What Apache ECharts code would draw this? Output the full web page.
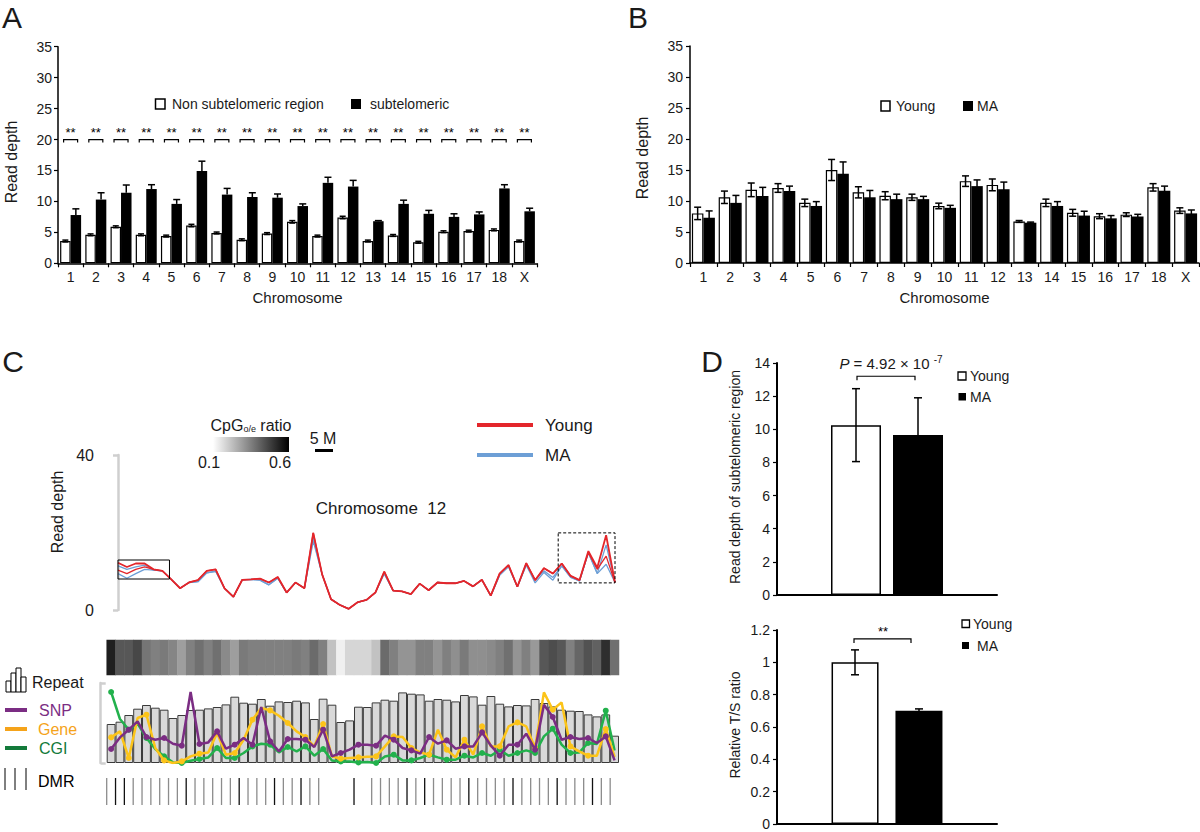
<!DOCTYPE html>
<html><head><meta charset="utf-8">
<script src="https://cdn.jsdelivr.net/npm/echarts@6/dist/echarts.min.js"></script>
<style>html,body{margin:0;padding:0;background:#fff}#c{width:1200px;height:832px}</style>
</head><body><div id="c"></div>
<script>
// ---------- DATA ----------
const chromosomes = ['1','2','3','4','5','6','7','8','9','10','11','12','13','14','15','16','17','18','X'];
// Panel A
const nonSubtelomeric    = [3.6,4.6,5.9,4.6,4.4,6.1,4.9,3.8,4.8,6.7,4.4,7.4,3.6,4.5,3.4,5.1,5.2,5.4,3.6];
const nonSubtelomericErr = [0.15,0.15,0.15,0.15,0.15,0.2,0.15,0.15,0.15,0.2,0.15,0.2,0.15,0.15,0.15,0.15,0.15,0.15,0.15];
const subtelomeric       = [7.8,10.3,11.4,12.0,9.6,14.9,11.1,10.7,10.6,9.25,13.0,12.4,6.8,9.6,8.0,7.5,7.9,12.1,8.4];
const subtelomericErr    = [1.0,1.1,1.25,0.7,0.7,1.6,1.0,0.7,0.6,0.35,0.9,1.0,0.1,0.6,0.55,0.5,0.4,0.6,0.5];
const significance       = ['**','**','**','**','**','**','**','**','**','**','**','**','**','**','**','**','**','**','**'];
// Panel B
const youngDepth = [8.0,10.6,11.8,12.1,9.7,15.0,11.4,10.85,10.6,9.2,13.2,12.6,6.7,9.7,8.1,7.55,7.8,12.2,8.45];
const youngErr   = [1.0,1.0,1.1,0.7,0.6,1.7,0.9,0.65,0.5,0.45,0.85,0.95,0.15,0.6,0.55,0.4,0.3,0.6,0.45];
const maDepth    = [7.3,9.7,10.8,11.6,9.2,14.4,10.6,10.3,10.3,8.9,12.4,11.9,6.5,9.2,7.65,7.2,7.5,11.65,8.0];
const maErr      = [1.1,1.2,1.4,0.8,0.7,1.9,1.1,0.8,0.45,0.4,1.0,1.15,0.1,0.7,0.7,0.45,0.35,0.75,0.55];
// Panel C: chromosome 12 read depth (57 windows)
const chr12Young1 = [12.2,11.1,12.0,12.0,10.5,10.1,7.9,5.6,7.1,7.7,10.1,10.5,5.6,3.4,7.8,7.9,8.1,7.1,8.5,4.5,7.1,5.6,19.9,9.2,2.8,1.3,0.3,2.0,2.6,4.5,9.9,5.0,4.8,4.1,6.8,5.1,7.1,6.9,6.9,7.5,6.1,7.8,3.7,9.4,11.6,6.0,12.1,7.7,10.8,9.4,12.0,8.8,7.7,15.2,10.9,19.3,7.1];
const chr12Young2 = [10.3,9.4,10.5,11.1,10.5,10.1,7.9,5.6,7.1,7.7,10.1,10.5,5.6,3.4,7.8,7.9,8.1,7.1,8.5,4.5,7.1,5.6,19.9,9.2,2.8,1.3,0.3,2.0,2.6,4.5,9.9,5.0,4.8,4.1,6.8,5.1,7.1,6.9,6.9,7.5,6.1,7.8,3.7,9.4,11.6,6.0,12.1,7.7,10.8,9.4,12.0,8.8,7.7,14.8,10.5,13.9,7.1];
const chr12MA1    = [11.4,10.5,11.1,11.6,10.3,10.1,7.9,5.6,7.1,7.3,9.6,10.0,5.6,3.4,7.8,7.9,7.7,6.5,8.2,4.5,7.1,5.6,18.6,9.2,2.8,1.3,0.3,2.0,2.6,4.5,9.4,5.0,4.8,4.1,6.8,5.1,7.1,6.9,6.9,7.5,6.1,7.8,3.7,9.0,11.2,6.0,11.6,7.7,10.1,8.4,11.4,8.5,7.5,14.8,9.4,16.8,7.1];
const chr12MA2    = [9.4,8.2,9.4,10.5,10.3,10.1,7.9,5.6,7.1,7.3,9.6,10.0,5.6,3.4,7.8,7.9,7.7,6.5,8.2,4.5,7.1,5.6,17.8,9.2,2.8,1.3,0.3,2.0,2.6,4.5,9.4,5.0,4.8,4.1,6.8,5.1,7.1,6.9,6.9,7.5,6.1,7.8,3.7,9.0,11.2,6.0,11.6,7.0,9.7,7.7,11.4,8.4,7.5,14.8,9.4,11.8,7.1];
// Panel C: 58 genomic bins
const cpgRatio = [0.54,0.43,0.43,0.46,0.37,0.35,0.36,0.34,0.29,0.35,0.38,0.35,0.38,0.33,0.29,0.36,0.35,0.35,0.35,0.35,0.35,0.36,0.35,0.39,0.35,0.22,0.13,0.18,0.18,0.18,0.22,0.39,0.35,0.31,0.31,0.35,0.35,0.31,0.35,0.32,0.36,0.32,0.32,0.33,0.35,0.38,0.31,0.35,0.30,0.43,0.45,0.43,0.35,0.40,0.44,0.41,0.51,0.38];
const repeatDensity = [39.0,41.3,48.0,54.3,58.0,55.3,53.3,45.0,48.0,53.0,53.3,54.6,56.0,58.6,66.3,60.3,59.3,64.0,57.3,61.6,61.0,62.3,60.6,44.0,64.3,58.3,41.0,42.6,56.3,56.0,60.6,63.3,62.3,70.6,69.3,68.6,62.3,64.0,63.3,61.6,68.0,66.6,58.3,67.0,59.3,56.6,58.0,57.6,64.0,60.0,56.6,53.3,52.3,52.0,48.6,46.6,48.6,27.3];
const snpDensity  = [14.0,25.6,33.3,41.6,26.0,23.3,25.0,19.3,17.3,71.0,19.0,20.6,31.6,14.3,18.3,25.0,18.3,56.0,21.6,11.6,24.0,24.0,23.3,16.0,33.3,6.6,10.0,13.3,18.3,18.3,17.3,27.3,23.3,15.0,12.6,9.3,26.0,19.3,22.6,14.3,16.6,16.6,30.6,17.3,7.3,18.3,18.3,29.3,13.3,58.3,46.0,23.3,26.0,24.0,25.0,20.0,26.6,2.6];
const geneDensity = [25.6,31.6,5.0,45.0,48.3,15.0,2.6,0,1.6,6.6,9.3,10.6,30.0,8.3,10.0,23.3,43.3,55.0,52.6,47.3,40.0,31.6,26.0,16.6,39.0,6.6,4.3,5.0,5.6,6.3,6.6,16.6,26.6,26.0,15.0,10.6,8.3,33.3,13.3,5.6,23.3,8.3,36.6,16.6,16.6,36.6,40.6,36.6,15.0,70.6,53.3,60.6,16.6,11.6,7.3,7.3,34.0,6.0];
const cgiDensity  = [71.0,44.0,33.3,39.3,25.0,14.0,6.6,0.6,0,2.3,4.0,5.6,15.0,5.0,5.0,10.0,16.6,19.3,18.3,10.6,16.0,11.6,16.6,7.3,14.0,2.6,1.6,1.6,0.6,1.0,0,6.6,8.3,2.6,2.6,5.0,8.3,5.6,3.3,3.3,7.3,5.6,10.0,7.3,13.3,7.3,10.0,12.6,10.0,26.6,34.3,18.3,10.0,10.6,20.0,19.0,52.3,12.6];
// DMR marks per bin: 0 none, 1 grey, 2 dark
const dmrMarks = [1,2,2,1,1,1,1,1,1,2,1,1,1,1,1,2,1,1,1,2,1,1,2,1,1,0,0,0,2,0,1,1,1,1,2,1,2,1,1,1,1,2,1,1,1,1,2,1,1,1,1,2,1,1,1,2,1,1];
// Panel D
const groups = ['Young','MA'];
const subtelDepth    = [10.25, 9.65];
const subtelDepthErr = [2.2, 2.25];
const tsRatio        = [1.0, 0.70];
const tsRatioErr     = [0.077, 0.012];

// ---------- CHART ----------
const FONT = 'Liberation Sans, Arial, Helvetica, sans-serif';
const TXT = '#1a1a1a';
const bins = cpgRatio.map((_, i) => String(i + 1));
const chart = echarts.init(document.getElementById('c'), null, {renderer: 'svg'});

function grid(left, top, width, height) {
  return {left, top, width, height, containLabel: false, outerBoundsMode: 'none'};
}
function catAxis(gi, data, show) {
  return {type: 'category', gridIndex: gi, data, show: show !== false,
    axisLine: {show: true, lineStyle: {color: '#000', width: 1.5}},
    axisTick: {show: true, length: 4, lineStyle: {color: '#000', width: 1.2}},
    axisLabel: {show: true, interval: 0, margin: 7, fontSize: 14, fontFamily: FONT, color: TXT},
    splitLine: {show: false}};
}
function valAxis(gi, min, max, interval, extra) {
  return Object.assign({type: 'value', gridIndex: gi, min, max, interval,
    axisLine: {show: true, lineStyle: {color: '#000', width: 1.5}},
    axisTick: {show: true, length: 4, lineStyle: {color: '#000', width: 1.2}},
    axisLabel: {show: true, margin: 6, fontSize: 14, fontFamily: FONT, color: TXT},
    splitLine: {show: false}}, extra || {});
}
function errSeries(axis, vals, errs, offset, capHalf, twoSided, color) {
  return {type: 'custom', xAxisIndex: axis, yAxisIndex: axis, silent: true, z: 6,
    data: vals.map((v, i) => [i, v, errs[i]]), encode: {x: 0, y: 1},
    renderItem(params, api) {
      const i = api.value(0), v = api.value(1), e = api.value(2);
      const base = api.coord([i, v]);
      const x = base[0] + offset;
      const yTop = api.coord([i, v + e])[1];
      const yBot = twoSided ? api.coord([i, v - e])[1] : base[1];
      const st = {stroke: color, lineWidth: 1.5};
      const ch = [
        {type: 'line', shape: {x1: x, y1: yBot, x2: x, y2: yTop}, style: st},
        {type: 'line', shape: {x1: x - capHalf, y1: yTop, x2: x + capHalf, y2: yTop}, style: st}];
      if (twoSided) ch.push({type: 'line', shape: {x1: x - capHalf, y1: yBot, x2: x + capHalf, y2: yBot}, style: st});
      return {type: 'group', children: ch};
    }};
}
function bracketSeries(axis, data, dxL, dxR, drop, label, labelDx) {
  return {type: 'custom', xAxisIndex: axis, yAxisIndex: axis, silent: true, z: 6,
    data, encode: {x: 0, y: 1},
    renderItem(params, api) {
      const p = api.coord([api.value(0), api.value(1)]);
      const x = p[0], y = p[1];
      const ch = [{type: 'polyline', shape: {points: [[x + dxL, y + drop], [x + dxL, y], [x + dxR, y], [x + dxR, y + drop]]},
        style: {stroke: '#000', lineWidth: 1.2, fill: null}}];
      const t = label ? (Array.isArray(label) ? label[params.dataIndex] : label) : '';
      if (t) ch.push({type: 'text', style: {text: t, x: x + (labelDx || 0), y: y - 0.5, align: 'center', verticalAlign: 'bottom',
        textAlign: 'center', textVerticalAlign: 'bottom', fontSize: 13, fontFamily: FONT, fill: '#000'}});
      return {type: 'group', children: ch};
    }};
}

const series = [];
// Panel A
series.push({type: 'bar', name: 'Non subtelomeric region', xAxisIndex: 0, yAxisIndex: 0, data: nonSubtelomeric, barWidth: 10.5, barGap: '0%',
  itemStyle: {color: '#fff', borderColor: '#000', borderWidth: 1.2}});
series.push({type: 'bar', name: 'subtelomeric', xAxisIndex: 0, yAxisIndex: 0, data: subtelomeric, barWidth: 10.5, barGap: '0%',
  itemStyle: {color: '#000'}});
series.push(errSeries(0, nonSubtelomeric, nonSubtelomericErr, -5.25, 3, true, '#000'));
series.push(errSeries(0, subtelomeric, subtelomericErr, 5.25, 3.5, false, '#000'));
series.push(bracketSeries(0, chromosomes.map((c, i) => [i, 20]), -7, 7, 3, significance, 0));
// Panel B
series.push({type: 'bar', name: 'Young', xAxisIndex: 1, yAxisIndex: 1, data: youngDepth, barWidth: 11.5, barGap: '0%',
  itemStyle: {color: '#fff', borderColor: '#000', borderWidth: 1.2}});
series.push({type: 'bar', name: 'MA', xAxisIndex: 1, yAxisIndex: 1, data: maDepth, barWidth: 11.5, barGap: '0%',
  itemStyle: {color: '#000'}});
series.push(errSeries(1, youngDepth, youngErr, -5.75, 3.5, true, '#000'));
series.push(errSeries(1, maDepth, maErr, 5.75, 3.5, true, '#000'));
// Panel C lines
const lineS = (arr, color, w, z) => ({type: 'line', xAxisIndex: 2, yAxisIndex: 2, data: arr.map((v, i) => [i, v]),
  showSymbol: false, symbol: 'none', lineStyle: {color, width: w}, itemStyle: {color}, z, silent: true, animation: false});
series.push(lineS(chr12MA2, '#6d9fd6', 1.3, 2));
series.push(lineS(chr12MA1, '#6d9fd6', 1.3, 2));
series.push(lineS(chr12Young2, '#e3262b', 1.3, 3));
const y1 = lineS(chr12Young1, '#e3262b', 1.8, 3);
y1.markArea = {silent: true, z: 5, data: [
  [{coord: [0, 12.9], itemStyle: {color: 'rgba(0,0,0,0)', borderColor: '#000', borderWidth: 1}}, {coord: [5.8, 8.0]}],
  [{coord: [49.6, 19.9], itemStyle: {color: 'rgba(0,0,0,0)', borderColor: '#000', borderWidth: 1, borderType: [3, 2]}}, {coord: [56, 7.0]}]
]};
series.push(y1);
// heat strip
const heatIndex = series.length;
series.push({type: 'heatmap', xAxisIndex: 3, yAxisIndex: 3, data: cpgRatio.map((v, i) => [i, 0, v]), silent: true,
  itemStyle: {borderWidth: 0}});
// repeat bars
series.push({type: 'bar', xAxisIndex: 4, yAxisIndex: 4, data: repeatDensity, barCategoryGap: '0%', silent: true,
  itemStyle: {color: '#d9d9d9', borderColor: '#3a3a3a', borderWidth: 1}});
const densS = (arr, color, z) => ({type: 'line', xAxisIndex: 4, yAxisIndex: 4, data: arr, symbol: 'circle', symbolSize: 6,
  showSymbol: true, lineStyle: {color, width: 2.5}, itemStyle: {color}, z, silent: true});
series.push(densS(cgiDensity, '#22b14c', 3));
series.push(densS(geneDensity, '#fcc419', 4));
series.push(densS(snpDensity, '#7b2d83', 5));
// DMR ticks
series.push({type: 'custom', xAxisIndex: 5, yAxisIndex: 5, silent: true,
  data: dmrMarks.map((m, i) => [i, m]).filter(d => d[1] > 0), encode: {x: 0, y: 1},
  renderItem(params, api) {
    const i = api.value(0), m = api.value(1);
    const half = api.size([1, 0])[0] / 2;
    const x = api.coord([i, 0])[0] - half;
    const cs = params.coordSys;
    return {type: 'line', shape: {x1: x, y1: cs.y, x2: x, y2: cs.y + cs.height},
      style: {stroke: m === 2 ? '#111' : '#8c8c8c', lineWidth: 1.3}};
  }});
// Panel D top
series.push({type: 'bar', name: 'Young', xAxisIndex: 6, yAxisIndex: 6, data: [subtelDepth[0]], barWidth: 50, barGap: '24%',
  itemStyle: {color: '#fff', borderColor: '#000', borderWidth: 1.5}});
series.push({type: 'bar', name: 'MA', xAxisIndex: 6, yAxisIndex: 6, data: [subtelDepth[1]], barWidth: 50, barGap: '24%',
  itemStyle: {color: '#000'}});
series.push(errSeries(6, [subtelDepth[0]], [subtelDepthErr[0]], -31, 4, true, '#000'));
series.push(errSeries(6, [subtelDepth[1]], [subtelDepthErr[1]], 31, 4, true, '#000'));
series.push(bracketSeries(6, [[0, 13.2]], -30, 28, 4, null, 0));
// Panel D bottom
series.push({type: 'bar', name: 'Young', xAxisIndex: 7, yAxisIndex: 7, data: [tsRatio[0]], barWidth: 47, barGap: '36%',
  itemStyle: {color: '#fff', borderColor: '#000', borderWidth: 1.5}});
series.push({type: 'bar', name: 'MA', xAxisIndex: 7, yAxisIndex: 7, data: [tsRatio[1]], barWidth: 47, barGap: '36%',
  itemStyle: {color: '#000'}});
series.push(errSeries(7, [tsRatio[0]], [tsRatioErr[0]], -32, 4, true, '#000'));
series.push(errSeries(7, [tsRatio[1]], [tsRatioErr[1]], 32, 4, true, '#000'));
series.push(bracketSeries(7, [[0, 1.145]], -33, 24, 4, '**', -4));

const hidden = {show: false};
const option = {
  animation: false,
  backgroundColor: '#fff',
  textStyle: {fontFamily: FONT},
  grid: [grid(58, 46.7, 479, 216.6), grid(690, 46, 509, 217), grid(118, 455, 497, 155),
         grid(106.7, 640, 512.3, 35), grid(106.7, 683, 512.3, 80), grid(106.7, 778, 512.3, 27),
         grid(777, 363, 220, 232), grid(777, 630, 220, 194)],
  visualMap: [{show: false, type: 'continuous', min: 0.1, max: 0.6, dimension: 2, seriesIndex: heatIndex,
    inRange: {color: ['#ffffff', '#000000']}}],
  xAxis: [
    Object.assign(catAxis(0, chromosomes), {name: 'Chromosome', nameLocation: 'middle', nameGap: 27,
      nameTextStyle: {fontSize: 15, fontFamily: FONT, color: TXT}}),
    Object.assign(catAxis(1, chromosomes), {name: 'Chromosome', nameLocation: 'middle', nameGap: 27,
      nameTextStyle: {fontSize: 15, fontFamily: FONT, color: TXT}}),
    {type: 'value', gridIndex: 2, min: 0, max: 56, show: false},
    {type: 'category', gridIndex: 3, data: bins, show: false},
    {type: 'category', gridIndex: 4, data: bins, show: false},
    {type: 'category', gridIndex: 5, data: bins, show: false},
    {type: 'category', gridIndex: 6, data: ['Subtelomeric region'], axisLine: {lineStyle: {color: '#000', width: 2}},
      axisTick: hidden, axisLabel: hidden},
    {type: 'category', gridIndex: 7, data: ['T/S ratio'], axisLine: {lineStyle: {color: '#000', width: 2}},
      axisTick: hidden, axisLabel: hidden}
  ],
  yAxis: [
    valAxis(0, 0, 35, 5, {axisLabel: {margin: 6, fontSize: 14, fontFamily: FONT, color: TXT}}),
    valAxis(1, 0, 35, 5, {axisLabel: {margin: 7, fontSize: 14, fontFamily: FONT, color: TXT}}),
    valAxis(2, 0, 40, 40, {offset: 13, axisLine: {show: true, lineStyle: {color: '#cfcfcf', width: 2.5}},
      axisTick: {show: true, length: 5, lineStyle: {color: '#cfcfcf', width: 2.5}},
      axisLabel: {margin: 11, fontSize: 16, fontFamily: FONT, color: TXT}}),
    {type: 'category', gridIndex: 3, data: ['CpG'], show: false},
    valAxis(4, 0, 80, 80, {offset: 6, axisLine: {show: true, lineStyle: {color: '#cfcfcf', width: 2.5}},
      axisTick: {show: true, inside: true, length: 5, lineStyle: {color: '#cfcfcf', width: 2.5}}, axisLabel: {show: false}}),
    {type: 'value', gridIndex: 5, min: 0, max: 2, show: false},
    valAxis(6, 0, 14, 2, {axisLine: {show: true, lineStyle: {color: '#000', width: 2}}, axisLabel: {margin: 7, fontSize: 14, fontFamily: FONT, color: TXT}}),
    valAxis(7, 0, 1.2, 0.2, {axisLine: {show: true, lineStyle: {color: '#000', width: 2}}, axisLabel: {margin: 7, fontSize: 14, fontFamily: FONT, color: TXT}})
  ],
  series,
  graphic: {elements: (function () {
    const els = [];
    const t = (text, x, y, size, opt) => els.push(Object.assign({type: 'text', x, y, silent: true, z: 100,
      style: Object.assign({text, fontSize: size, fontFamily: FONT, fill: TXT, align: 'left', verticalAlign: 'middle'}, (opt && opt.style) || {})},
      opt && opt.rotation ? {rotation: opt.rotation} : {}));
    const r = (x, y, w, h, fill, stroke, lw) => els.push({type: 'rect', silent: true, z: 100, shape: {x, y, width: w, height: h},
      style: {fill, stroke: stroke || null, lineWidth: lw || 0}});
    const l = (x1, y1, x2, y2, stroke, lw) => els.push({type: 'line', silent: true, z: 100, shape: {x1, y1, x2, y2}, style: {stroke, lineWidth: lw}});
    const R = Math.PI / 2;
    // panel letters
    t('A', 12, 2, 30, {style: {align: 'center', verticalAlign: 'top', lineHeight: 30}});
    t('B', 638, 2, 30, {style: {align: 'center', verticalAlign: 'top', lineHeight: 30}});
    t('C', 13, 346, 30, {style: {align: 'center', verticalAlign: 'top', lineHeight: 30}});
    t('D', 712, 346, 30, {style: {align: 'center', verticalAlign: 'top', lineHeight: 30}});
    // axis titles
    t('Read depth', 11, 162, 16, {rotation: R, style: {align: 'center'}});
    t('Read depth', 642, 158, 16, {rotation: R, style: {align: 'center'}});
    t('Read depth', 57, 512, 16, {rotation: R, style: {align: 'center'}});
    t('Read depth of subtelomeric region', 735, 477, 14, {rotation: R, style: {align: 'center'}});
    t('Relative T/S ratio', 735, 725, 14, {rotation: R, style: {align: 'center'}});
    // legend A
    r(155.5, 99, 9.5, 10, '#fff', '#000', 1.5); t('Non subtelomeric region', 172, 104, 14);
    r(351, 99, 10, 10, '#000'); t('subtelomeric', 370, 104, 14);
    // legend B
    r(881, 101, 9, 10, '#fff', '#000', 1.5); t('Young', 896, 106, 14);
    r(963, 101, 10, 10, '#000'); t('MA', 977, 106, 14);
    // legend D
    r(958, 372, 8, 8, '#fff', '#000', 1.3); t('Young', 970, 376, 14);
    r(958.5, 393, 7.5, 7.5, '#000'); t('MA', 970, 397, 14);
    r(962, 620, 7.5, 7.5, '#fff', '#000', 1.3); t('Young', 973, 624, 14);
    r(962, 642, 7, 7, '#000'); t('MA', 977, 646, 14);
    // P value
    els.push({type: 'text', x: 891, y: 363, z: 100, silent: true, style: {
      text: '{i|P} = 4.92 × 10 {s|-7}', fontSize: 15, fontFamily: FONT, fill: TXT, align: 'center', verticalAlign: 'middle', lineHeight: 18,
      rich: {i: {fontStyle: 'italic', fontSize: 15, fontFamily: FONT, fill: TXT}, s: {fontSize: 10, fontFamily: FONT, fill: TXT, verticalAlign: 'top'}}}});
    // Panel C annotations
    els.push({type: 'text', x: 251, y: 425, z: 100, silent: true, style: {
      text: '{a|CpG}{b|o/e}{a| ratio}', align: 'center', verticalAlign: 'middle', fill: TXT, fontFamily: FONT,
      rich: {a: {fontSize: 16, fontFamily: FONT, fill: TXT}, b: {fontSize: 9, fontFamily: FONT, fill: TXT, verticalAlign: 'bottom'}}}});
    els.push({type: 'rect', silent: true, z: 100, shape: {x: 213, y: 437, width: 76, height: 15},
      style: {fill: new echarts.graphic.LinearGradient(0, 0, 1, 0, [{offset: 0, color: '#ffffff'}, {offset: 1, color: '#000000'}])}});
    t('0.1', 209, 462, 16, {style: {align: 'center'}});
    t('0.6', 280, 462, 16, {style: {align: 'center'}});
    t('5 M', 323, 438, 16, {style: {align: 'center'}});
    r(315, 449, 18, 3, '#000');
    l(477, 425, 533, 425, '#e3262b', 4); t('Young', 545, 425, 17);
    l(477, 455, 533, 455, '#6d9fd6', 4); t('MA', 545, 455, 17);
    t('Chromosome  12', 381, 508, 17, {style: {align: 'center'}});
    // lower legend
    [[6, 681, 11], [11, 673, 19], [16, 668, 24], [21, 677, 15]].forEach(b => r(b[0], b[1], 5, b[2], '#fff', '#000', 1));
    t('Repeat', 32, 682, 16);
    l(5, 710, 27, 710, '#7b2d83', 4); t('SNP', 39, 710, 16, {style: {fill: '#7b2d83'}});
    l(5, 729, 27, 729, '#f5a31a', 4); t('Gene', 38, 729, 16, {style: {fill: '#f5a31a'}});
    l(5, 748, 27, 748, '#137a3a', 4); t('CGI', 39, 748, 16, {style: {fill: '#137a3a'}});
    l(5, 768, 5, 790, '#000', 1); l(15, 768, 15, 790, '#000', 1); l(26, 768, 26, 790, '#000', 1);
    t('DMR', 38, 781, 16, {style: {fill: '#000'}});
    return els;
  })()}
};
chart.setOption(option);
</script>
</body></html>
